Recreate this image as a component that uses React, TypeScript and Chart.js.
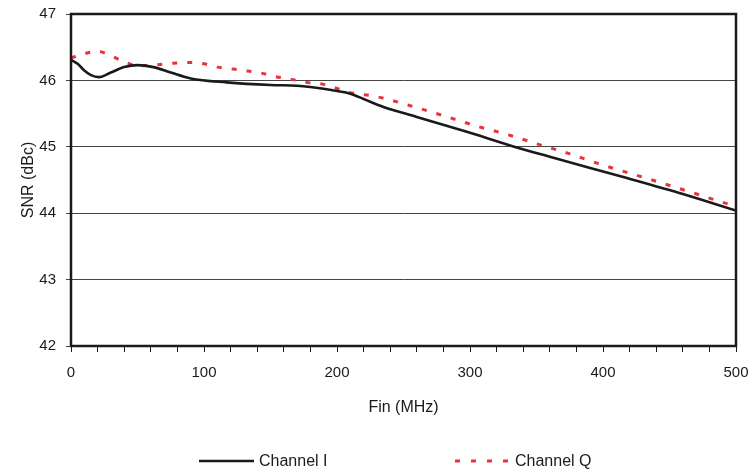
import React, { useEffect, useRef } from "react";
import { Chart, registerables } from "chart.js";

Chart.register(...registerables);

const freqI = [0, 5, 10, 15, 21, 30, 40, 50, 62, 75, 90, 117, 150, 170, 180, 200, 210, 220, 235, 260, 297, 332, 360, 418, 460, 500];
const snrI = [46.31, 46.25, 46.15, 46.08, 46.05, 46.12, 46.2, 46.23, 46.2, 46.12, 46.03, 45.97, 45.93, 45.92, 45.9, 45.84, 45.8, 45.72, 45.6, 45.45, 45.23, 45.01, 44.85, 44.53, 44.29, 44.04];

const freqQ = [0, 10, 20, 30, 40, 50, 62, 72, 90, 100, 110, 122, 133, 143, 153, 165, 177, 190, 200, 207, 231, 260, 283, 307, 329, 351, 374, 396, 432, 467, 500];
const snrQ = [46.34, 46.4, 46.44, 46.37, 46.28, 46.22, 46.23, 46.25, 46.27, 46.25, 46.2, 46.17, 46.14, 46.11, 46.06, 46.02, 45.97, 45.94, 45.88, 45.83, 45.75, 45.59, 45.45, 45.3, 45.18, 45.04, 44.9, 44.75, 44.53, 44.31, 44.1];

const seriesNames = ["Channel I", "Channel Q"];
const xTitle = "Fin (MHz)";
const yTitle = "SNR (dBc)";

const FONT = "'Liberation Sans', Arial, Helvetica, sans-serif";
const RED = "#e8323c";

const frameAndLegend = {
  id: "frameAndLegend",
  afterDraw(chart: any) {
    const { ctx, chartArea } = chart;
    const { left, right, top, bottom } = chartArea;
    ctx.save();
    ctx.strokeStyle = "#1a1a1a";
    ctx.lineWidth = 2.5;
    ctx.strokeRect(left, top, right - left, bottom - top);

    // legend
    const ly = 461;
    ctx.lineWidth = 2.5;
    ctx.strokeStyle = "#1a1a1a";
    ctx.setLineDash([]);
    ctx.beginPath();
    ctx.moveTo(199, ly);
    ctx.lineTo(254, ly);
    ctx.stroke();

    ctx.strokeStyle = RED;
    ctx.lineWidth = 3;
    ctx.setLineDash([5, 11]);
    ctx.beginPath();
    ctx.moveTo(455, ly);
    ctx.lineTo(512, ly);
    ctx.stroke();
    ctx.setLineDash([]);

    ctx.fillStyle = "#1a1a1a";
    ctx.font = `16px ${FONT}`;
    ctx.textBaseline = "middle";
    ctx.textAlign = "left";
    ctx.fillText(seriesNames[0], 259, ly + 1);
    ctx.fillText(seriesNames[1], 515, ly + 1);
    ctx.restore();
  },
};

export default function App() {
  const ref = useRef<HTMLCanvasElement>(null);

  useEffect(() => {
    if (!ref.current) return;
    const chart = new Chart(ref.current, {
      type: "line",
      data: {
        datasets: [
          {
            label: seriesNames[0],
            data: freqI.map((x, i) => ({ x, y: snrI[i] })),
            borderColor: "#1a1a1a",
            borderWidth: 2.6,
            pointRadius: 0,
            cubicInterpolationMode: "monotone",
            fill: false,
          },
          {
            label: seriesNames[1],
            data: freqQ.map((x, i) => ({ x, y: snrQ[i] })),
            borderColor: RED,
            borderWidth: 3,
            borderDash: [5, 10],
            pointRadius: 0,
            cubicInterpolationMode: "monotone",
            fill: false,
          },
        ],
      },
      options: {
        responsive: false,
        animation: false,
        layout: { padding: { top: 14, right: 18, left: 0, bottom: 0 } },
        plugins: { legend: { display: false }, tooltip: { enabled: false } },
        scales: {
          x: {
            type: "linear",
            min: 0,
            max: 500,
            afterFit: (s: any) => {
              s.height = 126;
              s.paddingLeft = 0;
              s.paddingRight = 0;
            },
            ticks: {
              stepSize: 20,
              autoSkip: false,
              maxRotation: 0,
              padding: 12,
              color: "#1a1a1a",
              font: { family: FONT, size: 15 },
              callback: (v: any) => (Number(v) % 100 === 0 ? String(v) : ""),
            },
            grid: { drawOnChartArea: false, drawTicks: true, tickLength: 6, color: "#1a1a1a", lineWidth: 1 },
            border: { display: false },
            title: {
              display: true,
              text: xTitle,
              color: "#1a1a1a",
              font: { family: FONT, size: 16 },
              padding: { top: 0, bottom: 55 },
            },
          },
          y: {
            min: 42,
            max: 47,
            afterFit: (s: any) => {
              s.width = 71;
              s.paddingTop = 0;
              s.paddingBottom = 0;
            },
            ticks: {
              stepSize: 1,
              padding: 10,
              color: "#1a1a1a",
              font: { family: FONT, size: 15 },
            },
            grid: { color: "#444", lineWidth: 1, tickLength: 5, drawTicks: true },
            border: { display: false },
            title: {
              display: true,
              text: yTitle,
              color: "#1a1a1a",
              font: { family: FONT, size: 16 },
              padding: { top: 19, bottom: 0 },
            },
          },
        },
      },
      plugins: [frameAndLegend],
    } as any);
    return () => chart.destroy();
  }, []);

  return (
    <div style={{ position: "absolute", left: 0, top: 0, width: 754, height: 472, background: "#fff" }}>
      <canvas ref={ref} width={754} height={472} style={{ display: "block" }} />
    </div>
  );
}
